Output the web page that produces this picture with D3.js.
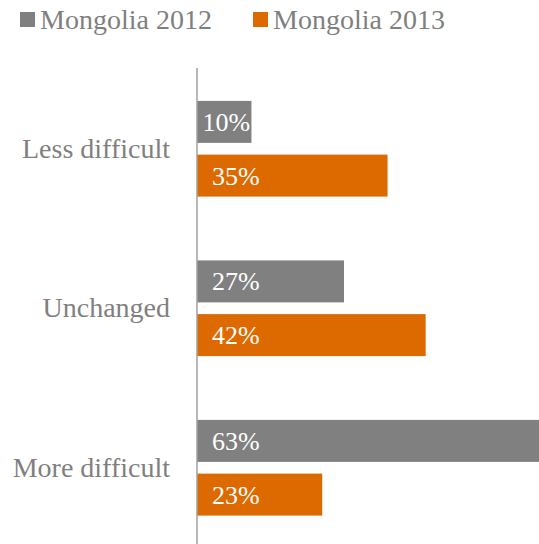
<!DOCTYPE html>
<html>
<head>
<meta charset="utf-8">
<script src="https://cdn.jsdelivr.net/npm/d3@7"></script>
<style>
  html, body { margin: 0; padding: 0; background: #fff; }
  svg { display: block; }
</style>
</head>
<body>
<svg id="chart" width="539" height="544"></svg>
<script>
// Survey answers, share of respondents per year
const categories = ["Less difficult", "Unchanged", "More difficult"];
const seriesNames = ["Mongolia 2012", "Mongolia 2013"];
const values2012 = [10, 27, 63];
const values2013 = [35, 42, 23];
const seriesColors = ["#808080", "#DD6A00"];

const fontFamily = "'Liberation Serif', 'DejaVu Serif', serif";
const textGray = "#7f7f7f";

const svg = d3.select("#chart");
const W = 539, H = 544;

// Plot region
const axisX = 197;
const plotTop = 69, plotBottom = 547.5;

const x = d3.scaleLinear().domain([0, 63]).range([axisX, 540]);
const y0 = d3.scaleBand().domain(categories).range([plotTop, plotBottom]).paddingInner(0.4).paddingOuter(0.2);
const y1 = d3.scaleBand().domain(seriesNames).range([0, y0.bandwidth()]).paddingInner(0.218);

const rows = categories.map((c, i) => ({
  category: c,
  bars: [
    { series: seriesNames[0], value: values2012[i] },
    { series: seriesNames[1], value: values2013[i] }
  ]
}));

const color = d3.scaleOrdinal().domain(seriesNames).range(seriesColors);

const groups = svg.append("g").selectAll("g")
  .data(rows).join("g")
  .attr("transform", d => `translate(0,${y0(d.category)})`);

groups.selectAll("rect")
  .data(d => d.bars).join("rect")
  .attr("x", x(0))
  .attr("y", d => y1(d.series))
  .attr("width", d => x(d.value) - x(0))
  .attr("height", y1.bandwidth())
  .attr("fill", d => color(d.series));

// Value labels sit inside the bar near its base; short bars get less padding
groups.selectAll("text.val")
  .data(d => d.bars).join("text")
  .attr("class", "val")
  .attr("y", d => y1(d.series) + y1.bandwidth() / 2)
  .attr("dy", "0.35em")
  .attr("fill", "#fff")
  .style("font-family", fontFamily)
  .style("font-size", "26px")
  .text(d => d.value + "%")
  .attr("x", function (d) {
    const w = this.getComputedTextLength();
    const room = x(d.value) - x(0);
    return x(0) + Math.max(4, Math.min(15, (room - w) / 2 + 2));
  });

// Category axis
const yAxis = d3.axisLeft(y0).tickSize(0).tickPadding(27);
const axisG = svg.append("g")
  .attr("transform", `translate(${axisX},0)`)
  .call(yAxis);
axisG.select(".domain").remove();
axisG.selectAll("text")
  .attr("fill", textGray)
  .style("font-family", fontFamily)
  .style("font-size", "28px");

svg.append("line")
  .attr("x1", axisX).attr("x2", axisX)
  .attr("y1", 68).attr("y2", H)
  .attr("stroke", "#a0a0a0")
  .attr("stroke-width", 1.5);

// Legend
const legendX = [20, 253];
const legend = svg.append("g").selectAll("g")
  .data(seriesNames).join("g")
  .attr("transform", (d, i) => `translate(${legendX[i]},12)`);
legend.append("rect")
  .attr("width", 15).attr("height", 15)
  .attr("fill", d => color(d));
legend.append("text")
  .attr("x", 20).attr("y", 17)
  .attr("fill", textGray)
  .style("font-family", fontFamily)
  .style("font-size", "28px")
  .text(d => d);
</script>
</body>
</html>
